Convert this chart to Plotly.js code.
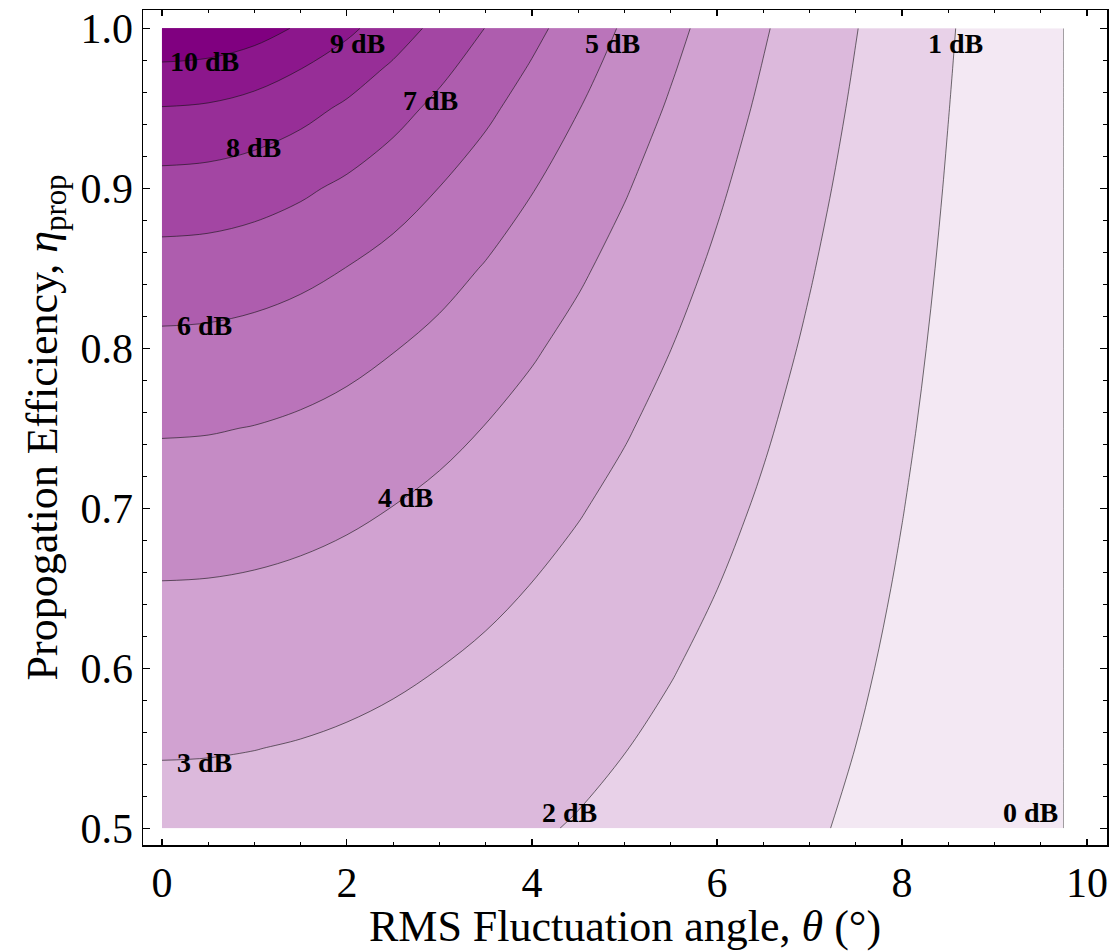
<!DOCTYPE html>
<html>
<head>
<meta charset="utf-8">
<script src="https://cdn.plot.ly/plotly-3.0.1.min.js"></script>
<style>
  html, body { margin: 0; padding: 0; background: #ffffff; }
  #chart { width: 1114px; height: 951px; }
</style>
</head>
<body>
<div id="chart"></div>
<script>
// RMS fluctuation angle (degrees) - grid columns
const thetaDeg = [0, 0.5, 1, 1.5, 2, 2.5, 3, 3.5, 4, 4.5, 5, 5.5, 6, 6.5, 7, 7.5, 8, 8.5, 9, 9.5, 9.75];
// Propagation efficiency - grid rows
const etaProp = [0.5, 0.55, 0.6, 0.65, 0.7, 0.75, 0.8, 0.85, 0.9, 0.95, 0.975, 1.0];
// Squeezing level (dB), one row per eta
const squeezingDb = [
  [2.6721, 2.6623, 2.6330, 2.5847, 2.5180, 2.4338, 2.3329, 2.2169, 2.0868, 1.9440, 1.7900, 1.6259, 1.4534, 1.2735, 1.0875, 0.8963, 0.7013, 0.5032, 0.3029, 0.1010, -0.0004],
  [3.0579, 3.0461, 3.0110, 2.9531, 2.8734, 2.7729, 2.6534, 2.5162, 2.3633, 2.1964, 2.0173, 1.8278, 1.6295, 1.4240, 1.2128, 0.9970, 0.7781, 0.5569, 0.3343, 0.1112, -0.0004],
  [3.4814, 3.4673, 3.4251, 3.3556, 3.2604, 3.1409, 2.9993, 2.8378, 2.6587, 2.4644, 2.2572, 2.0394, 1.8131, 1.5800, 1.3419, 1.1002, 0.8563, 0.6112, 0.3660, 0.1215, -0.0004],
  [3.9507, 3.9336, 3.8829, 3.7994, 3.6853, 3.5430, 3.3751, 3.1850, 2.9755, 2.7499, 2.5112, 2.2620, 2.0048, 1.7418, 1.4749, 1.2058, 0.9358, 0.6662, 0.3980, 0.1317, -0.0005],
  [4.4770, 4.4562, 4.3946, 4.2937, 4.1564, 3.9861, 3.7867, 3.5624, 3.3174, 3.0556, 2.7809, 2.4965, 2.2053, 1.9098, 1.6121, 1.3140, 1.0169, 0.7220, 0.4301, 0.1420, -0.0005],
  [5.0759, 5.0504, 4.9747, 4.8516, 4.6849, 4.4796, 4.2413, 3.9758, 3.6884, 3.3845, 3.0685, 2.7444, 2.4155, 2.0846, 1.7539, 1.4251, 1.0996, 0.7785, 0.4626, 0.1524, -0.0005],
  [5.7709, 5.7390, 5.6446, 5.4917, 5.2867, 5.0365, 4.7492, 4.4327, 4.0943, 3.7403, 3.3765, 3.0074, 2.6365, 2.2667, 1.9004, 1.5389, 1.1838, 0.8357, 0.4952, 0.1627, -0.0006],
  [6.5986, 6.5576, 6.4369, 6.2430, 5.9855, 5.6754, 5.3244, 4.9433, 4.5418, 4.1280, 3.7081, 3.2872, 2.8693, 2.4569, 2.0520, 1.6559, 1.2697, 0.8936, 0.5281, 0.1731, -0.0006],
  [7.6220, 7.5672, 7.4068, 7.1519, 6.8187, 6.4248, 5.9876, 5.5222, 5.0410, 4.5535, 4.0671, 3.5865, 3.1152, 2.6557, 2.2091, 1.7762, 1.3573, 0.9524, 0.5613, 0.1835, -0.0006],
  [8.9637, 8.8851, 8.6574, 8.3027, 7.8507, 7.3311, 6.7706, 6.1902, 5.6050, 5.0255, 4.4584, 3.9078, 3.3760, 2.8640, 2.3720, 1.8999, 1.4468, 1.0120, 0.5947, 0.1939, -0.0007],
  [9.8307, 9.7325, 9.4503, 9.0173, 8.4760, 7.8667, 7.2224, 6.5672, 5.9171, 5.2822, 4.6681, 4.0779, 3.5125, 2.9720, 2.4560, 1.9630, 1.4921, 1.0420, 0.6115, 0.1991, -0.0007],
  [10.9151, 10.7862, 10.4209, 9.8730, 9.2069, 8.4777, 7.7266, 6.9800, 6.2534, 5.5549, 4.8885, 4.2548, 3.6534, 3.0828, 2.5414, 2.0271, 1.5380, 1.0724, 0.6283, 0.2044, -0.0007]
];
// Contour level labels
const levelLabels = ['0 dB', '1 dB', '2 dB', '3 dB', '4 dB', '5 dB', '6 dB', '7 dB', '8 dB', '9 dB', '10 dB'];
// Where each label sits on its contour (theta, eta)
const labelTheta = [9.39, 8.58, 4.41, 0.46, 2.63, 4.87, 0.46, 2.90, 0.99, 2.11, 0.46];
const labelEta   = [0.510, 0.9906, 0.510, 0.541, 0.707, 0.9906, 0.8144, 0.955, 0.9256, 0.9906, 0.979];
// Axis ticks
const xTickVals = [0, 2, 4, 6, 8, 10];
const yTickVals = [0.5, 0.6, 0.7, 0.8, 0.9, 1.0];

const serif = 'Liberation Serif, Times New Roman, serif';

const trace = {
  type: 'contour',
  x: thetaDeg,
  y: etaProp,
  z: squeezingDb,
  autocontour: false,
  contours: { start: 0, end: 10, size: 1, coloring: 'fill', showlines: true },
  colorscale: [[0, 'rgb(255,255,255)'], [1, 'rgb(128,0,128)']],
  showscale: false,
  line: { color: 'rgba(20,20,20,0.6)', width: 1, smoothing: 1 },
  hoverinfo: 'skip'
};

const annotations = levelLabels.map((t, i) => ({
  x: labelTheta[i], y: labelEta[i], xref: 'x', yref: 'y',
  text: '<b>' + t + '</b>', showarrow: false,
  xanchor: 'center', yanchor: 'middle',
  font: { family: serif, size: 28, color: '#000000' }
}));

const layout = {
  width: 1114, height: 951,
  margin: { l: 143, r: 7, t: 10, b: 106, pad: 0 },
  paper_bgcolor: '#ffffff', plot_bgcolor: '#ffffff',
  showlegend: false,
  xaxis: {
    range: [-0.2043, 10.2173], autorange: false,
    tickmode: 'array', tickvals: xTickVals, ticktext: xTickVals.map(String),
    ticks: 'inside', ticklen: 6, tickwidth: 1.2, tickcolor: '#000',
    minor: { dtick: 0.5, tick0: 0, ticks: 'inside', ticklen: 3, tickwidth: 1.2, tickcolor: '#000', showgrid: false },
    showline: true, linecolor: '#000', linewidth: 1.5, mirror: 'allticks',
    showgrid: false, zeroline: false,
    tickfont: { family: serif, size: 42, color: '#000' },
    title: { text: 'RMS Fluctuation angle, <i>θ</i> (°)', font: { family: serif, size: 44, color: '#000' }, standoff: 14 }
  },
  yaxis: {
    range: [0.48956, 1.01144], autorange: false,
    tickmode: 'array', tickvals: yTickVals, ticktext: yTickVals.map(v => v.toFixed(1)),
    ticks: 'inside', ticklen: 7, tickwidth: 1.2, tickcolor: '#000',
    minor: { dtick: 0.02, tick0: 0.5, ticks: 'inside', ticklen: 4, tickwidth: 1.2, tickcolor: '#000', showgrid: false },
    showline: true, linecolor: '#000', linewidth: 1.5, mirror: 'allticks',
    showgrid: false, zeroline: false,
    tickfont: { family: serif, size: 42, color: '#000' },
    title: { text: 'Propogation Efficiency, <i>η</i><sub>prop</sub>', font: { family: serif, size: 44, color: '#000' }, standoff: 9 }
  },
  annotations: annotations
};

Plotly.newPlot('chart', [trace], layout, { displayModeBar: false, staticPlot: true });
</script>
</body>
</html>
